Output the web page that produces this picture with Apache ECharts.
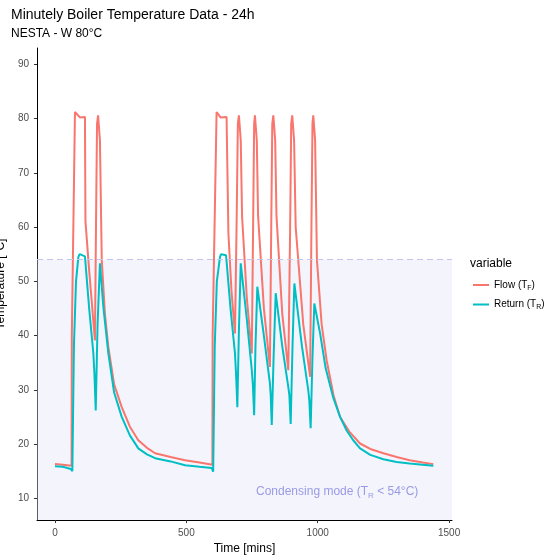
<!DOCTYPE html>
<html>
<head>
<meta charset="UTF-8">
<title>Boiler temperature</title>
<script src="https://cdn.jsdelivr.net/npm/echarts@6/dist/echarts.min.js"></script>
</head>
<body style="margin:0;background:#fff;">
<div id="chart" style="width:556px;height:556px;"></div>
<script>
// flow temperature (minutes, °C)
var flowT = [0, 30, 63, 64, 76, 95, 114, 116, 130, 152, 156, 160, 164, 168, 171, 178, 190, 203, 225, 254, 285, 317, 350, 381, 440, 495, 550, 599,
  600, 615, 630, 653, 660, 672, 685, 691, 696, 700, 704, 707, 712, 730, 749, 754, 758, 761, 765, 768, 773, 795, 818, 823, 827, 831, 835, 838, 843, 865, 888, 895, 899, 903, 907, 910, 916, 945, 971, 976, 980, 983, 987, 990, 997, 1015, 1034, 1060, 1085, 1120, 1161, 1200, 1250, 1300, 1350, 1400, 1440];
var flowV = [16.3, 16.2, 16.0, 40, 81.2, 80.2, 80.3, 61, 52, 39.1, 60, 79, 80.6, 80.4, 76, 53.9, 44, 37.9, 31, 26.8, 23.2, 20.7, 19.3, 18.3, 17.6, 17.0, 16.6, 16.2,
  40, 81.2, 80.2, 80.3, 58.8, 48, 40.4, 60, 79, 80.6, 80.4, 76, 62, 47, 36.7, 60, 79, 80.6, 80.4, 76, 62, 45, 34.2, 60, 79, 80.6, 80.4, 76, 62, 44, 33.6, 60, 79, 80.6, 80.4, 76, 60, 42, 32.4, 60, 79, 80.6, 80.4, 76, 53.9, 42, 35.4, 29, 25.0, 22.3, 20.1, 19.1, 18.3, 17.6, 17.0, 16.6, 16.3];
// return temperature
var retT = [0, 30, 60, 66, 72, 80, 89, 94, 114, 130, 146, 150, 155, 162, 171, 184, 203, 225, 254, 285, 317, 350, 381, 440, 495, 550, 596,
  602, 608, 616, 628, 632, 651, 668, 685, 689, 694, 700, 707, 730, 749, 753, 758, 763, 770, 795, 818, 821, 825, 832, 840, 865, 888, 892, 897, 904, 911, 940, 964, 968, 973, 980, 987, 1009, 1030, 1058, 1085, 1110, 1135, 1161, 1200, 1250, 1300, 1350, 1400, 1440];
var retV = [15.9, 15.8, 15.4, 15.0, 38, 50, 54.5, 55, 54.6, 45, 36.7, 33, 26.2, 42, 53.3, 45.3, 36.7, 29.5, 25.0, 21.6, 19.2, 18.1, 17.4, 16.8, 16.1, 15.8, 15.6,
  14.9, 38, 50, 54.5, 55, 54.8, 45, 36.7, 33, 26.8, 41, 53.3, 43, 33.6, 31, 25.3, 38, 49, 40, 31.2, 29, 23.5, 36, 47.8, 38, 30.5, 29, 23.7, 38, 49.6, 38, 29.9, 28, 22.9, 36, 45.9, 40.4, 34, 28.7, 25.0, 22.5, 20.7, 19.2, 18.0, 17.2, 16.7, 16.4, 16.2, 16.0];
var xTicks = [0, 500, 1000, 1500];
var yTicks = [10, 20, 30, 40, 50, 60, 70, 80, 90];
var condLimit = 54;

function pairs(t, v) {
  var out = [];
  for (var i = 0; i < t.length; i++) out.push([t[i], v[i]]);
  return out;
}

var chart = echarts.init(document.getElementById('chart'));
var tickStyle = {color: '#4d4d4d', fontSize: 10, fontFamily: 'Liberation Sans', formatter: function (v) { return String(v); }};
chart.setOption({
  animation: false,
  title: {
    text: 'Minutely Boiler Temperature Data - 24h',
    subtext: 'NESTA - W 80°C',
    left: 6, top: 3, itemGap: 6,
    textStyle: {fontSize: 14, fontWeight: 'normal', color: '#000', fontFamily: 'Liberation Sans'},
    subtextStyle: {fontSize: 12, color: '#000', fontFamily: 'Liberation Sans'}
  },
  grid: {left: 37, right: 104, top: 48, bottom: 36, containLabel: false, outerBoundsMode: 'none'},
  legend: {
    orient: 'vertical', left: 468, top: 275, itemGap: 8,
    icon: 'rect', itemWidth: 16, itemHeight: 2,
    data: ['Flow', 'Return'],
    formatter: function (n) { return n === 'Flow' ? 'Flow (T{s|F})' : 'Return (T{s|R})'; },
    textStyle: {fontSize: 10, color: '#000', fontFamily: 'Liberation Sans', rich: {s: {fontSize: 7, verticalAlign: 'bottom', padding: [6, 0, 0, 0]}}}
  },
  xAxis: {
    type: 'value', min: -68.5, max: 1511,
    name: 'Time [mins]', nameLocation: 'middle', nameGap: 20,
    nameTextStyle: {fontSize: 12, color: '#000', fontFamily: 'Liberation Sans'},
    splitLine: {show: false},
    axisLine: {onZero: false, lineStyle: {color: '#000'}},
    axisTick: {length: 3, lineStyle: {color: '#333'}, customValues: xTicks},
    axisLabel: Object.assign({customValues: xTicks}, tickStyle)
  },
  yAxis: {
    type: 'value', min: 6, max: 93,
    name: 'Temperature [°C]', nameLocation: 'middle', nameGap: 22,
    nameTextStyle: {fontSize: 12, color: '#000', fontFamily: 'Liberation Sans'},
    splitLine: {show: false},
    axisLine: {show: true, onZero: false, lineStyle: {color: '#000'}},
    axisTick: {show: true, length: 3, lineStyle: {color: '#333'}, customValues: yTicks},
    axisLabel: Object.assign({customValues: yTicks}, tickStyle)
  },
  graphic: [
    {type: 'text', left: 256, top: 486, z: 10, style: {
      text: 'Condensing mode (T{s|R} < 54°C)',
      fill: '#9a9ae6', fontSize: 12, fontFamily: 'Liberation Sans',
      rich: {s: {fontSize: 8, fill: '#9a9ae6', verticalAlign: 'bottom', padding: [8, 0, 0, 0]}}
    }},
    {type: 'text', left: 470, top: 258, style: {text: 'variable', fill: '#000', fontSize: 12, fontFamily: 'Liberation Sans'}}
  ],
  series: [
    {
      name: 'Flow', type: 'line', showSymbol: false, data: pairs(flowT, flowV),
      lineStyle: {color: '#F8766D', width: 2}, itemStyle: {color: '#F8766D'}, z: 3,
      markArea: {silent: true, itemStyle: {color: 'rgba(228,228,250,0.4)'},
        data: [[{xAxis: -68.5, yAxis: 6}, {xAxis: 1511, yAxis: condLimit}]]},
      markLine: {silent: true, symbol: 'none', label: {show: false},
        lineStyle: {color: '#c4c4ee', type: [6, 4], width: 1},
        data: [{yAxis: condLimit}]}
    },
    {
      name: 'Return', type: 'line', showSymbol: false, data: pairs(retT, retV),
      lineStyle: {color: '#00BFC4', width: 2}, itemStyle: {color: '#00BFC4'}, z: 4
    }
  ]
});
</script>
</body>
</html>
